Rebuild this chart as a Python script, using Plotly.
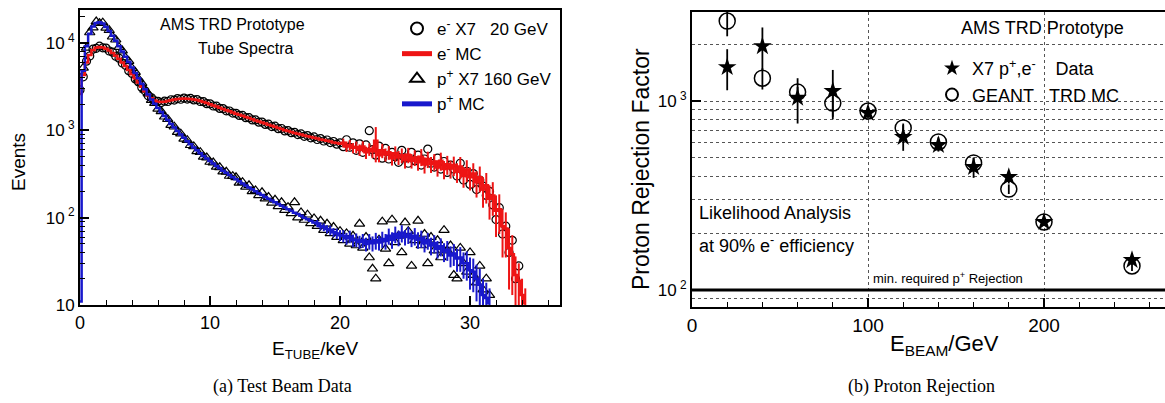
import plotly.graph_objects as go

W, H = 1165, 403

# ---------------- panel (a): tube spectra (0.25 keV bins) ----------------
BIN = 0.25
e_mc = [2600, 4300, 6000, 7300, 8300, 8850, 9000, 8900, 8600, 8200,
        7700, 7150, 6600, 6000, 5450, 4900, 4400, 3950, 3520, 3150,
        2800, 2530, 2330, 2200, 2130, 2110, 2130, 2170, 2210, 2250,
        2280, 2300, 2310, 2305, 2290, 2260, 2220, 2170, 2110, 2050,
        1990,
        1930, 1870, 1810, 1755, 1700, 1650, 1600, 1550,
        1505, 1465, 1420, 1380, 1340, 1300, 1265, 1230,
        1195, 1160, 1130, 1100, 1065, 1035, 1005, 980,
        960, 935, 915, 895, 875, 855, 838, 820,
        805, 788, 775, 758, 745, 728, 716, 700,
        720, 655, 680, 630, 645, 600, 655, 560, 610, 575,
        760, 520, 590, 530, 560, 480, 545, 490, 520, 455,
        525, 450, 490, 430, 500, 405, 470, 410, 440, 375,
        450, 360, 410, 365, 400, 335, 385, 300, 355, 290,
        320, 255, 290, 210, 235, 165, 180, 120, 125, 80,
        75, 45, 38, 22, 19, 13, 10.5]
E_TAIL = 81
e_mc_err_tail = [85, 90, 95, 85, 100, 90, 95, 90, 100, 95,
                 330, 90, 110, 90, 100, 85, 110, 90, 100, 90,
                 105, 85, 100, 85, 110, 85, 100, 85, 95, 80,
                 105, 85, 100, 85, 100, 85, 110, 80, 100, 85,
                 100, 85, 95, 80, 90, 70, 75, 60, 60, 45,
                 40, 30, 25, 14, 11, 7, 5]
e_dat = [2900, 4100, 6200, 7100, 8500, 8700, 9200, 8800, 8750, 8100,
         7850, 7050, 6700, 5900, 5550, 4820, 4480, 3880, 3580, 3100,
         2840, 2490, 2360, 2170, 2150, 2080, 2160, 2140, 2240, 2220,
         2310, 2270, 2340, 2280, 2320, 2230, 2250, 2140, 2130, 2020,
         2010,
         1900, 1890, 1780, 1775, 1675, 1665, 1575, 1565,
         1480, 1480, 1395, 1395, 1315, 1315, 1240, 1245,
         1170, 1175, 1105, 1115, 1045, 1050, 985, 995,
         940, 950, 895, 910, 855, 870, 820, 840,
         785, 805, 755, 775, 725, 745, 695, 720,
         650, 780, 640, 720, 590, 700, 560, 680, 990, 600,
         520, 660, 480, 620, 470, 560, 500, 430, 590, 480,
         420, 560, 450, 520, 400, 470, 610, 420, 380, 480,
         360, 440, 330, 400, 360, 300, 420, 270, 340, 240,
         320, 210, 270, 230, 180, 200, 140, 95, 130, 65,
         80, 40, 55, 20, 28, None, None]

p_mc = [11, 4800, 9200, 12800, 15500, 17000, 17300, 16700, 15300, 13700,
        12100, 10600, 9200, 8000, 6950, 6050, 5250, 4550, 3950, 3420,
        2960, 2580, 2260, 2010, 1800, 1620, 1460, 1310, 1180, 1075,
        980, 895, 820, 752, 692, 638, 590, 548, 510, 476,
        445,
        417, 391, 367, 345, 326, 308, 291, 275,
        261, 247, 234, 222, 211, 201, 191, 182,
        173, 165, 157, 150, 143, 137, 131, 125,
        120, 114, 110, 105, 100, 96, 92, 88,
        86, 80, 78, 74, 72, 68, 66, 63, 62, 58,
        61, 55, 56, 53, 55, 50, 54, 51, 55, 52,
        57, 54, 62, 56, 65, 59, 67, 60, 64, 58,
        62, 56, 58, 51, 55, 48, 51, 44, 47, 41,
        43, 37, 39, 34, 35, 30, 30, 25, 24, 20,
        17, 13, 12, 10.5]
P_TAIL = 73
p_mc_err_tail = [8, 8, 8, 8, 9, 8, 9, 9, 10, 9,
                 10, 9, 10, 9, 10, 9, 11, 10, 12, 10,
                 12, 11, 13, 12, 14, 12, 15, 12, 14, 12,
                 14, 12, 13, 11, 12, 11, 12, 10, 11, 10,
                 11, 10, 11, 10, 11, 10, 11, 10, 10, 9,
                 9, 7, 6, 5]
p_dat = [None,
         5200, 8800, 13200, 15000, 17600, 16900, 17100, 14900, 14000,
         11800, 10900, 8950, 8200, 6800, 6200, 5150, 4650, 3880, 3480,
         2900, 2630, 2220, 2050, 1760, 1650, 1430, 1340, 1150, 1100,
         955, 915, 800, 770, 675, 655, 575, 562, 497, 488,
         434,
         428, 381, 377, 336, 335, 300, 299,
         290, 250, 255, 225, 235, 200, 205, 180,
         195, 165, 172, 148, 160, 135, 150, 122,
         132, 112, 150, 100, 115, 94, 108, 86,
         98, 80, 92, 72, 85, 66, 78, 60,
         70, 55, 66, 50, 62, 48, 85, 45,
         60, 35, 26, 20, 56, 90, 44, 30,
         95, 52, 62, 40, 88, 70, 28, 55,
         92, 48, 65, 30, 60, 42, 55, 35,
         72, 42, 48, 22, 20, 45, 30, 24,
         40, 22, 18, 28, 15, 20, 13]

e_x = [i * BIN for i in range(len(e_mc))]
p_x = [i * BIN for i in range(len(p_mc))]
e_mc_err = [0] * E_TAIL + e_mc_err_tail
p_mc_err = [0] * P_TAIL + p_mc_err_tail

# ---------------- panel (b): proton rejection ----------------
E_beam = [20, 40, 60, 80, 100, 120, 140, 160, 180, 200, 250]
star_val = [1510, 1950, 1040, 1130, 865, 645, 585, 447, 396, 229, 144]
star_err = [370, 500, 280, 330, 55, 100, 45, 55, 30, 10, 8]
circ_val = [2650, 1320, 1115, 975, 885, 720, 607, 470, 342, 229, 134]
circ_err = [450, 170, 70, 150, 40, 40, 35, 30, 20, 10, 8]
MIN_REJ = 100

RED = "#ee1414"
BLUE = "#1818cc"
SANS = "Liberation Sans"
SERIF = "Liberation Serif"


def px(x):
    return x / W


def py(y):
    return 1 - y / H


fig = go.Figure()

fig.add_trace(go.Scatter(
    x=e_x, y=e_dat, mode="markers", xaxis="x", yaxis="y",
    name="e<sup>-</sup> X7\u00a0\u00a0\u00a020 GeV", legendrank=1,
    marker=dict(symbol="circle-open", size=8, color="black", line=dict(width=1.2)),
))
fig.add_trace(go.Scatter(
    x=p_x, y=p_dat, mode="markers", xaxis="x", yaxis="y",
    name="p<sup>+</sup> X7 160 GeV", legendrank=3,
    marker=dict(symbol="triangle-up-open", size=9, color="black", line=dict(width=1.2)),
))
fig.add_trace(go.Scatter(
    x=e_x, y=e_mc, mode="lines", xaxis="x", yaxis="y",
    name="e<sup>-</sup> MC", legendrank=2,
    line=dict(color=RED, width=2.5, shape="hvh"),
    error_y=dict(type="data", array=e_mc_err, color=RED, thickness=2, width=0),
))
fig.add_trace(go.Scatter(
    x=p_x, y=p_mc, mode="lines", xaxis="x", yaxis="y",
    name="p<sup>+</sup> MC", legendrank=4,
    line=dict(color=BLUE, width=2.5, shape="hvh"),
    error_y=dict(type="data", array=p_mc_err, color=BLUE, thickness=2, width=0),
))

fig.add_trace(go.Scatter(
    x=E_beam, y=circ_val, mode="markers", xaxis="x2", yaxis="y2",
    legend="legend2", legendrank=2,
    name="GEANT\u00a0\u00a0\u00a0TRD MC",
    marker=dict(symbol="circle-open", size=16, color="black", line=dict(width=1.5)),
    error_y=dict(type="data", array=circ_err, color="black", thickness=1.8, width=0),
))
fig.add_trace(go.Scatter(
    x=E_beam, y=star_val, mode="markers", xaxis="x2", yaxis="y2",
    legend="legend2", legendrank=1,
    name="X7 p<sup>+</sup>,e<sup>-</sup>\u00a0\u00a0\u00a0\u00a0Data",
    marker=dict(symbol="star", size=14, color="black"),
    error_y=dict(type="data", array=star_err, color="black", thickness=1.8, width=0),
))

fig.add_shape(type="line", xref="x2 domain", yref="y2", x0=0, x1=1,
              y0=MIN_REJ, y1=MIN_REJ, line=dict(color="black", width=3))

axis_common = dict(showline=True, linecolor="black", linewidth=1.8, mirror=True,
                   zeroline=False, ticks="inside", tickcolor="black", tickwidth=1.5,
                   ticklen=9, automargin=False)

left_minor_y = [20, 30, 40, 50, 60, 70, 80, 90, 200, 300, 400, 500, 600, 700, 800, 900,
                2000, 3000, 4000, 5000, 6000, 7000, 8000, 9000, 20000]
right_minor_y = [90, 200, 300, 400, 500, 600, 700, 800, 900, 2000]

fig.update_layout(
    width=W, height=H, margin=dict(l=0, r=0, t=0, b=0, autoexpand=False),
    paper_bgcolor="white", plot_bgcolor="white",
    font=dict(family=SANS, color="black"),
    showlegend=True,
    xaxis=dict(domain=[px(80), px(560)], range=[0, 36.92], anchor="y",
               tickvals=[0, 10, 20, 30], tickfont=dict(size=18), showgrid=False,
               minor=dict(tickmode="linear", tick0=0, dtick=2, ticks="inside",
                          ticklen=5, tickcolor="black", tickwidth=1.3),
               **axis_common),
    yaxis=dict(domain=[py(305), py(10)], type="log", range=[1, 4.378], anchor="x",
               tickvals=[10, 100, 1000, 10000],
               ticktext=["10", "10<sup> 2</sup>", "10<sup> 3</sup>", "10<sup> 4</sup>"],
               tickfont=dict(size=17), showgrid=False,
               minor=dict(tickmode="array", tickvals=left_minor_y, ticks="inside",
                          ticklen=5, tickcolor="black", tickwidth=1.3),
               **axis_common),
    xaxis2=dict(domain=[px(692), 1.0], range=[0, 268.75], anchor="y2",
                tickvals=[0, 100, 200], tickfont=dict(size=19),
                showgrid=True, gridcolor="#555555", griddash="dot", gridwidth=1.3,
                minor=dict(tickmode="linear", tick0=0, dtick=20, ticks="inside",
                           ticklen=5, tickcolor="black", tickwidth=1.3),
                **axis_common),
    yaxis2=dict(domain=[py(307), py(12)], type="log", range=[1.91, 3.471], anchor="x2",
                tickvals=[100, 1000], ticktext=["10<sup> 2</sup>", "10<sup> 3</sup>"],
                tickfont=dict(size=17),
                showgrid=True, gridcolor="#555555", griddash="dot", gridwidth=1.3,
                minor=dict(tickmode="array", tickvals=right_minor_y, ticks="",
                           showgrid=True, gridcolor="#555555", griddash="dot",
                           gridwidth=1.3),
                **axis_common),
    legend=dict(x=px(397), y=py(11), xanchor="left", yanchor="top",
                bgcolor="rgba(0,0,0,0)", font=dict(size=17, family=SANS),
                itemsizing="constant", tracegroupgap=0, itemwidth=30),
    legend2=dict(x=px(932), y=py(50), xanchor="left", yanchor="top",
                 bgcolor="rgba(0,0,0,0)", font=dict(size=18, family=SANS),
                 itemsizing="constant", tracegroupgap=0, itemwidth=30),
)

texts = [
    ("AMS TRD Prototype", 232, 24, 16, "center", 0, SANS),
    ("Tube Spectra", 246, 48, 16, "center", 0, SANS),
    ("AMS TRD Prototype", 1042, 28, 18, "center", 0, SANS),
    ("Likelihood Analysis", 697, 213, 18, "left", 0, SANS),
    ("at 90% e<sup>-</sup> efficiency", 697, 245, 18, "left", 0, SANS),
    ("min. required p<sup>+</sup> Rejection", 871, 278, 13, "left", 0, SANS),
    ("Events", 18, 162, 19, "center", -90, SANS),
    ("E<sub>TUBE</sub>/keV", 315, 350, 19, "center", 0, SANS),
    ("Proton Rejection Factor", 641, 169, 23, "center", -90, SANS),
    ("E<sub>BEAM</sub>/GeV", 944, 345, 22, "center", 0, SANS),
    ("(a) Test Beam Data", 282, 386, 18, "center", 0, SERIF),
    ("(b) Proton Rejection", 921, 386, 18, "center", 0, SERIF),
]
for t, x, y, s, anc, ang, fam in texts:
    fig.add_annotation(text=t, x=px(x), y=py(y), xref="paper", yref="paper",
                       xanchor=anc, yanchor="middle", showarrow=False,
                       textangle=ang, font=dict(size=s, family=fam, color="black"))

fig.write_html("out.html", config={"displayModeBar": False},
               post_script="document.body.style.margin='0';document.body.style.overflow='hidden';")
